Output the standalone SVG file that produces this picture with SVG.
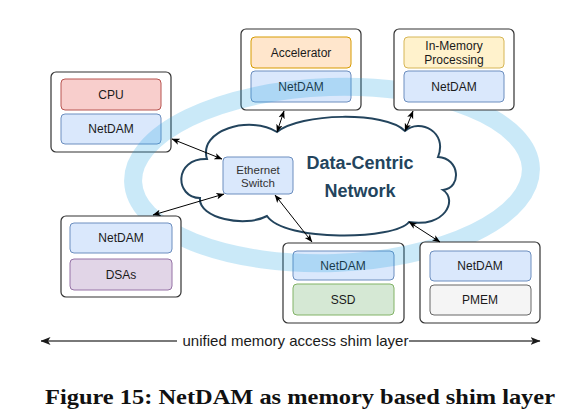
<svg xmlns="http://www.w3.org/2000/svg" width="580" height="417" viewBox="0 0 580 417">
<style>
.outer{fill:#fff;stroke:#333;stroke-width:1.2}
.nd{fill:#dae8fc;stroke:#6c8ebf;stroke-width:1}
.t{font-family:"Liberation Sans",Arial,sans-serif;font-size:12px;fill:#1a1a1a;text-anchor:middle}
.c{stroke:#000;stroke-width:1;fill:none;marker-start:url(#a);marker-end:url(#a)}
</style>
<defs>
<marker id="a" viewBox="0 0 10 10" refX="9.5" refY="5" markerWidth="8" markerHeight="8" orient="auto-start-reverse" markerUnits="userSpaceOnUse"><path d="M0,1 L10,5 L0,9 L2.5,5 Z" fill="#000"/></marker>
<marker id="b" viewBox="0 0 10 10" refX="9.5" refY="5" markerWidth="10" markerHeight="10" orient="auto" markerUnits="userSpaceOnUse"><path d="M0,1 L10,5 L0,9 L2.5,5 Z" fill="#1a1a1a"/></marker>
</defs>
<rect width="580" height="417" fill="#fff"/>

<g id="cpu">
<rect class="outer" x="51" y="72" width="120" height="80" rx="5"/>
<rect x="61" y="79" width="100" height="31" rx="4" fill="#f8cecc" stroke="#b85450"/>
<text class="t" x="111" y="99">CPU</text>
<rect class="nd" x="61" y="114" width="100" height="30" rx="4"/>
<text class="t" x="111" y="133">NetDAM</text>
</g>

<g id="accelerator">
<rect class="outer" x="241" y="29" width="120" height="81" rx="5"/>
<rect x="251" y="37" width="100" height="31" rx="4" fill="#ffe6cc" stroke="#d79b00"/>
<text class="t" x="301" y="57">Accelerator</text>
<rect class="nd" x="251" y="71" width="100" height="31" rx="4"/>
<text class="t" x="301" y="91">NetDAM</text>
</g>

<g id="ssd">
<rect class="outer" x="283" y="243" width="121" height="80" rx="5"/>
<rect class="nd" x="293" y="251" width="101" height="29" rx="4"/>
<text class="t" x="343" y="270">NetDAM</text>
<rect x="293" y="284" width="101" height="31" rx="4" fill="#d5e8d4" stroke="#82b366"/>
<text class="t" x="343" y="304">SSD</text>
</g>

<g id="ring">
<ellipse cx="332" cy="175" rx="199" ry="88" transform="rotate(-2 332 175)" fill="none" stroke="#1ba1e2" stroke-opacity="0.23" stroke-width="18"/>
</g>

<g id="cloud">
<path d="M207,159 C198,130 250,115 277,132 C300,113 385,111 405,131 C420,118 448,132 438,157 C460,158 462,188 443,190 C458,200 445,228 409,222 C395,240 285,242 267,216 C245,228 198,218 200,198 C175,198 173,158 207,159 Z" fill="#fff" stroke="#23445d" stroke-width="2"/>
<text x="360" y="169" font-family="Liberation Sans,Arial,sans-serif" font-size="18" font-weight="bold" fill="#23445d" text-anchor="middle">Data-Centric</text>
<text x="360" y="197" font-family="Liberation Sans,Arial,sans-serif" font-size="18" font-weight="bold" fill="#23445d" text-anchor="middle">Network</text>
</g>

<g id="switch">
<rect class="nd" x="223" y="157" width="70" height="37" rx="4"/>
<text class="t" x="258" y="174" style="font-size:11.5px;fill:#333">Ethernet</text>
<text class="t" x="258" y="187" style="font-size:11.5px;fill:#333">Switch</text>
</g>

<g id="inmemory">
<rect class="outer" x="394" y="29" width="120" height="81" rx="5"/>
<rect x="404" y="37" width="100" height="31" rx="4" fill="#fff2cc" stroke="#d6b656"/>
<text class="t" x="454" y="50">In-Memory</text>
<text class="t" x="454" y="64">Processing</text>
<rect class="nd" x="404" y="71" width="100" height="31" rx="4"/>
<text class="t" x="454" y="91">NetDAM</text>
</g>

<g id="dsas">
<rect class="outer" x="61" y="216" width="120" height="81" rx="5"/>
<rect class="nd" x="70" y="223" width="102" height="30" rx="4"/>
<text class="t" x="121" y="242">NetDAM</text>
<rect x="70" y="259" width="102" height="31" rx="4" fill="#e1d5e7" stroke="#9673a6"/>
<text class="t" x="121" y="279">DSAs</text>
</g>

<g id="pmem">
<rect class="outer" x="420" y="242" width="120" height="81" rx="5"/>
<rect class="nd" x="430" y="251" width="101" height="30" rx="4"/>
<text class="t" x="480" y="270">NetDAM</text>
<rect x="430" y="285" width="101" height="30" rx="4" fill="#f5f5f5" stroke="#666"/>
<text class="t" x="480" y="304">PMEM</text>
</g>

<g id="connectors">
<line class="c" x1="172" y1="139" x2="222" y2="159"/>
<line class="c" x1="153" y1="215" x2="224" y2="194"/>
<line class="c" x1="284" y1="111" x2="277" y2="132"/>
<line class="c" x1="413" y1="111" x2="405" y2="131"/>
<line class="c" x1="275" y1="195" x2="312" y2="242"/>
<line class="c" x1="409" y1="222" x2="440" y2="242"/>
<line x1="177" y1="341" x2="41" y2="341" stroke="#4d4d4d" stroke-width="1.3" marker-end="url(#b)"/>
<line x1="409" y1="341" x2="540" y2="341" stroke="#4d4d4d" stroke-width="1.3" marker-end="url(#b)"/>
</g>

<text x="295.5" y="346" font-family="Liberation Sans,Arial,sans-serif" font-size="15" fill="#1a1a1a" text-anchor="middle">unified memory access shim layer</text>

<text x="300" y="404" font-family="Liberation Serif,Times New Roman,serif" font-size="21" font-weight="bold" fill="#111" text-anchor="middle" textLength="510" lengthAdjust="spacingAndGlyphs">Figure 15: NetDAM as memory based shim layer</text>
</svg>
